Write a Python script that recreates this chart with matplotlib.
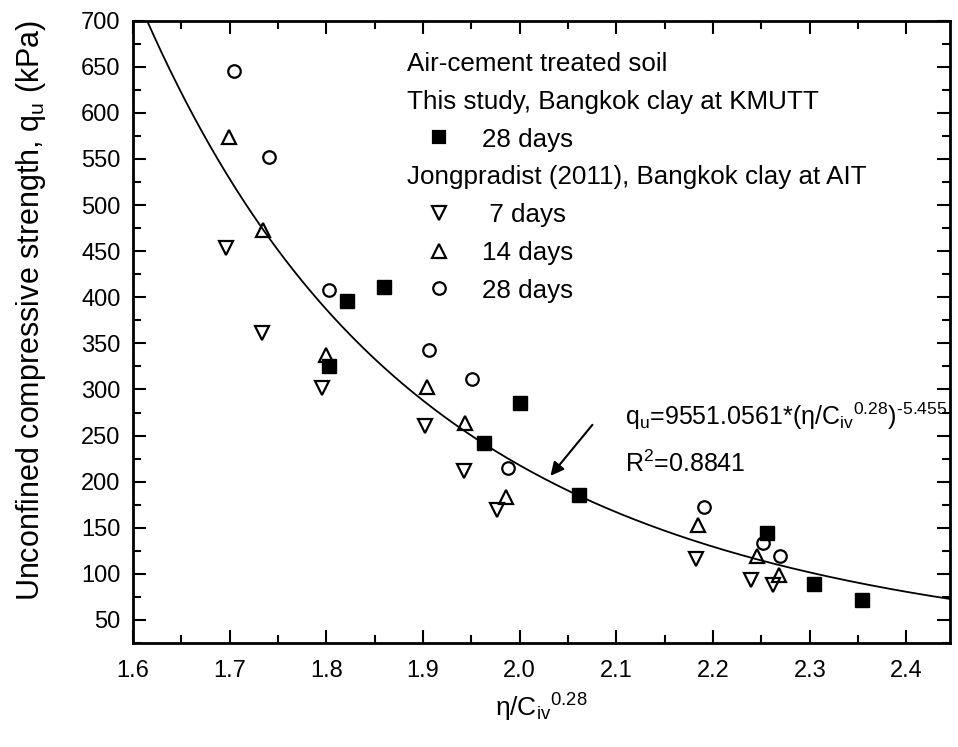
import numpy as np
import matplotlib.pyplot as plt
from matplotlib import font_manager

plt.rcParams['font.family'] = ['Liberation Sans', 'DejaVu Sans']
plt.rcParams['mathtext.fontset'] = 'custom'
plt.rcParams['mathtext.rm'] = 'Liberation Sans'
plt.rcParams['mathtext.it'] = 'Liberation Sans:italic'
plt.rcParams['mathtext.bf'] = 'Liberation Sans:bold'

# This study, Bangkok clay at KMUTT, 28 days
x_kmutt28 = [1.803, 1.821, 1.860, 1.963, 2.000, 2.061, 2.256, 2.304, 2.354]
y_kmutt28 = [326, 396, 411, 242, 285, 186, 144, 89, 72]

# Jongpradist (2011), Bangkok clay at AIT
x_ait7 = [1.696, 1.733, 1.796, 1.902, 1.942, 1.976, 2.182, 2.239, 2.262]
y_ait7 = [453, 361, 302, 260, 212, 169, 116, 93, 88]
x_ait14 = [1.699, 1.734, 1.800, 1.904, 1.943, 1.986, 2.184, 2.245, 2.268]
y_ait14 = [574, 473, 337, 303, 264, 183, 153, 119, 99]
x_ait28 = [1.705, 1.741, 1.803, 1.906, 1.951, 1.988, 2.191, 2.252, 2.269]
y_ait28 = [645, 552, 408, 343, 311, 215, 172, 134, 119]

# fitted power law shown on the chart
fit_a = 9551.0561
fit_b = -5.455

names = {f.name for f in font_manager.fontManager.ttflist}
label_font = 'Liberation Sans Narrow' if 'Liberation Sans Narrow' in names else 'Liberation Sans'

fig = plt.figure(figsize=(9.58, 7.47), dpi=100)
ax = fig.add_axes([0.1388, 0.1392, 0.8528, 0.8331])

xf = np.linspace(1.6, 2.445, 400)
ax.plot(xf, fit_a * xf ** fit_b, color='black', lw=1.3)

ax.plot(x_kmutt28, y_kmutt28, 's', color='black', ms=9.5, ls='none')
ax.plot(x_ait7, y_ait7, 'v', mfc='none', mec='black', mew=1.6, ms=10, ls='none')
ax.plot(x_ait14, y_ait14, '^', mfc='none', mec='black', mew=1.6, ms=10, ls='none')
ax.plot(x_ait28, y_ait28, 'o', mfc='none', mec='black', mew=1.6, ms=9, ls='none')

ax.set_xlim(1.6, 2.445)
ax.set_ylim(25, 700)
ax.set_xticks(np.arange(1.6, 2.41, 0.1))
ax.set_xticks(np.arange(1.65, 2.44, 0.1), minor=True)
ax.set_yticks(np.arange(50, 701, 50))
ax.set_yticks(np.arange(25, 700, 50), minor=True)
ax.set_xticklabels([f'{v:.1f}' for v in np.arange(1.6, 2.41, 0.1)])
ax.tick_params(which='both', direction='in', top=True, right=True, width=1.5, labelsize=17)
ax.tick_params(which='major', length=9.5)
ax.tick_params(which='minor', length=5.8)
ax.tick_params(axis='x', pad=12)
ax.tick_params(axis='y', pad=9)
for s in ax.spines.values():
    s.set_linewidth(2)

ax.set_xlabel(r'$\mathregular{\eta/C_{iv}{}^{0.28}}$', fontsize=19, family=label_font)
ax.set_ylabel(r'Unconfined compressive strength, q$_\mathregular{u}$ (kPa)', fontsize=22, family=label_font)
ax.yaxis.set_label_coords(-0.104, 0.535)
ax.xaxis.set_label_coords(0.5, -0.078)

# legend drawn by hand to keep the header rows
fs = 18.7
rows = [0.919, 0.8584, 0.7977, 0.737, 0.6762, 0.6155, 0.5548]
ax.text(0.335, rows[0], 'Air-cement treated soil', transform=ax.transAxes, fontsize=fs)
ax.text(0.335, rows[1], 'This study, Bangkok clay at KMUTT', transform=ax.transAxes, fontsize=fs)
ax.text(0.335, rows[3], 'Jongpradist (2011), Bangkok clay at AIT', transform=ax.transAxes, fontsize=fs)
entries = [(rows[2], 's', 'black', '28 days'),
           (rows[4], 'v', 'none', ' 7 days'),
           (rows[5], '^', 'none', '14 days'),
           (rows[6], 'o', 'none', '28 days')]
for ry, mk, fc, lab in entries:
    ax.plot([0.3749], [ry + 0.015], mk, mfc=fc, mec='black', mew=1.6,
            ms=9 if mk in 'so' else 10, transform=ax.transAxes, clip_on=False)
    ax.text(0.4268, ry, lab, transform=ax.transAxes, fontsize=fs)

ax.annotate('', xy=(2.030, 204), xytext=(2.077, 264),
            arrowprops=dict(arrowstyle='-|>', color='black', lw=1.5, mutation_scale=20))
ax.text(0.602, 0.350, r'q$_\mathregular{u}$=9551.0561*($\mathregular{\eta/C_{iv}{}^{0.28}}$)$^\mathregular{\text{-}5.455}$',
        transform=ax.transAxes, fontsize=18)
ax.text(0.602, 0.275, r'R$^\mathregular{2}$=0.8841', transform=ax.transAxes, fontsize=18)

fig.savefig('out.png', dpi=100)
